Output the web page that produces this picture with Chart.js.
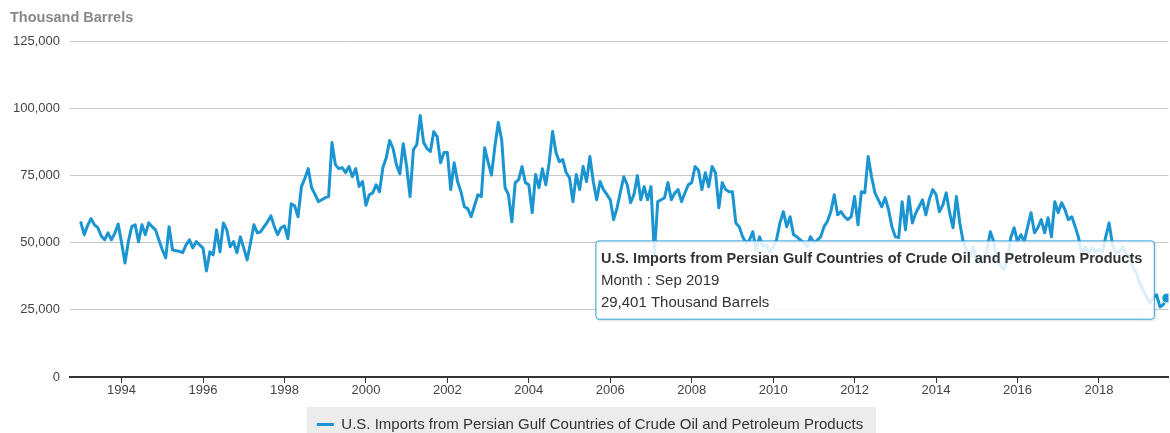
<!DOCTYPE html>
<html>
<head>
<meta charset="utf-8">
<script src="https://cdn.jsdelivr.net/npm/chart.js@4/dist/chart.umd.min.js"></script>
<style>
	html, body { margin: 0; padding: 0; background: #fff; overflow: hidden; }
	#wrap { position: relative; width: 1170px; height: 442px; }
</style>
</head>
<body>
<div id="wrap"><canvas id="importsChart"></canvas></div>
<script>
// U.S. imports from Persian Gulf countries, monthly, Jan 1993 - Sep 2019

const startYear = 1993;
const monthNames = ["Jan", "Feb", "Mar", "Apr", "May", "Jun", "Jul", "Aug", "Sep", "Oct", "Nov", "Dec"];
const yearTicks = [1994, 1996, 1998, 2000, 2002, 2004, 2006, 2008, 2010, 2012, 2014, 2016, 2018];
const yTicks = [0, 25000, 50000, 75000, 100000, 125000];
const seriesName = "U.S. Imports from Persian Gulf Countries of Crude Oil and Petroleum Products";
const unitName = "Thousand Barrels";

const imports = [
	57500, 53000, 56500, 59000, 56700, 55600, 52500, 51100, 53700, 51100, 53500, 57000, // 1993
	50000, 42500, 50500, 56000, 56700, 50400, 56700, 53000, 57400, 56000, 54800, 51000, // 1994
	47400, 44400, 56000, 47400, 47000, 46800, 46300, 49200, 51100, 48100, 50400, 49200, // 1995
	48000, 39500, 46600, 45500, 54800, 46600, 57400, 54800, 48500, 50400, 46300, 52200, // 1996
	48000, 43600, 50000, 56700, 53700, 54100, 56000, 57800, 60000, 56000, 53000, 55600, // 1997
	56300, 51500, 64500, 63800, 59700, 70900, 74000, 77600, 70500, 68000, 65300, 66000, // 1998
	66800, 67200, 87300, 79100, 77600, 78000, 76100, 78400, 74600, 77600, 71000, 72800, // 1999
	64000, 67900, 68600, 71600, 69000, 78000, 81700, 88100, 85100, 79000, 75700, 86900, // 2000
	78400, 67200, 84700, 86600, 97400, 87300, 85100, 84000, 91400, 89500, 79800, 83600, // 2001
	83600, 69800, 79800, 72800, 69000, 63400, 62700, 59700, 63800, 67900, 67200, 85400, // 2002
	80000, 75200, 85800, 94800, 88400, 70500, 67900, 57800, 72400, 73500, 78400, 72400, // 2003
	71600, 61200, 75400, 70500, 77600, 71600, 79800, 91400, 83600, 80200, 81000, 76100, // 2004
	74200, 65300, 75400, 69800, 78400, 72800, 82100, 72800, 66000, 72800, 69800, 68000, // 2005
	66000, 58600, 63000, 69000, 74600, 71600, 64900, 68000, 75000, 66000, 70900, 66000, // 2006
	70900, 46000, 65300, 66000, 66800, 72400, 66000, 68500, 69800, 65300, 68600, 71600, // 2007
	72400, 78400, 77000, 69800, 76100, 70900, 78400, 76100, 63000, 72400, 69800, 69000, // 2008
	69000, 57400, 56000, 52200, 50000, 51000, 54100, 47400, 52200, 48500, 49200, 46600, // 2009
	48500, 51100, 57400, 61600, 56000, 59700, 53000, 52200, 51100, 50000, 48500, 52200, // 2010
	50000, 51000, 52200, 56000, 58000, 61600, 67900, 60400, 61600, 59700, 58600, 59700, // 2011
	67200, 56700, 69000, 68600, 82100, 74600, 68600, 66000, 63400, 66800, 62300, 56000, // 2012
	52200, 51900, 65300, 54800, 67200, 57400, 61000, 63400, 66000, 60400, 66000, 69800, // 2013
	67900, 61600, 64000, 68600, 61200, 55600, 67200, 57400, 50400, 47400, 44500, 48500, // 2014
	42900, 45000, 42500, 47400, 54100, 50400, 43600, 41500, 39900, 43600, 51900, 55600, // 2015
	50400, 53000, 50400, 56000, 61200, 53700, 55600, 58600, 53700, 59300, 52200, 65300, // 2016
	61200, 64900, 62300, 58600, 59700, 56000, 51900, 45500, 48500, 46300, 48100, 46600, // 2017
	47500, 46600, 52200, 57400, 49200, 46300, 46600, 48500, 46000, 44800, 41000, 38800, // 2018
	35100, 32500, 30000, 27600, 29500, 30600, 26100, 27000, 29401                        // 2019
];

const lineBlue = "#1a95d2";

function monthLabel(i) {
	return monthNames[i % 12] + " " + (startYear + Math.floor(i / 12));
}

Chart.defaults.font.family = "'Liberation Sans', Arial, sans-serif";
Chart.defaults.color = "#333";

// tooltip sits up and to the left of the hovered point
Chart.Tooltip.positioners.besidePoint = function (elements) {
	if (!elements.length) return false;
	const el = elements[0].element;
	return { x: el.x - 14, y: el.y - 18, xAlign: "right", yAlign: "center" };
};

// grey band behind the legend
const legendBg = {
	id: "legendBg",
	beforeDraw(chart) {
		const lg = chart.legend;
		if (!lg || !lg.legendHitBoxes || !lg.legendHitBoxes.length) return;
		const hb = lg.legendHitBoxes[0];
		const ctx = chart.ctx;
		ctx.save();
		ctx.fillStyle = "#ececec";
		ctx.fillRect(hb.left - 10, hb.top - 10, hb.width + 23, chart.height - hb.top + 10);
		ctx.restore();
	}
};

// soft shadow under the tooltip box
const tooltipShadow = {
	id: "tooltipShadow",
	beforeTooltipDraw(chart, args) {
		const tt = args.tooltip;
		if (!tt || !tt.opacity) return;
		const ctx = chart.ctx;
		ctx.save();
		ctx.strokeStyle = "rgba(0,0,0,0.08)";
		ctx.lineWidth = 1;
		for (let k = 1; k <= 2; k++) {
			ctx.beginPath();
			ctx.roundRect(tt.x + k, tt.y + k, tt.width, tt.height, 3);
			ctx.stroke();
		}
		ctx.restore();
	}
};

const importsData = {
	datasets: [
		{
			label: seriesName,
			data: imports.map((v, i) => ({ x: i, y: v })),
			borderColor: lineBlue,
			backgroundColor: lineBlue,
			borderWidth: 3,
			borderJoinStyle: "round",
			borderCapStyle: "round",
			pointRadius: 0,
			pointHoverRadius: 5,
			pointHoverBackgroundColor: lineBlue,
			pointHoverBorderColor: "#ffffff",
			pointHoverBorderWidth: 1,
			tension: 0,
		},
	],
};

const importsConfig = {
	type: "line",
	data: importsData,
	plugins: [legendBg, tooltipShadow],
	options: {
		responsive: true,
		maintainAspectRatio: false,
		animation: false,
		events: [],
		layout: { padding: { left: 10, right: 0, top: 0, bottom: 0 } },
		scales: {
			x: {
				type: "linear",
				min: -3.2,
				max: 320.5,
				afterBuildTicks: (scale) => {
					scale.ticks = yearTicks.map((y) => ({ value: (y - startYear) * 12 }));
				},
				afterFit: (scale) => { scale.height = 30; },
				ticks: {
					callback: (v) => String(startYear + v / 12),
					font: { size: 13 },
					color: "#444",
					padding: 0,
					maxRotation: 0,
				},
				grid: {
					drawOnChartArea: false,
					drawTicks: true,
					tickLength: 6,
					color: "#333",
				},
				border: { display: true, color: "#333", width: 2 },
			},
			y: {
				min: 0,
				max: 125000,
				afterBuildTicks: (scale) => {
					scale.ticks = yTicks.map((v) => ({ value: v }));
				},
				afterFit: (scale) => { scale.width = 60; },
				ticks: {
					callback: (v) => v.toLocaleString("en-US"),
					font: { size: 13 },
					color: "#444",
					padding: 10,
				},
				grid: { color: "#c8c8c8", drawTicks: false },
				border: { display: false },
			},
		},
		plugins: {
			title: {
				display: true,
				text: unitName,
				align: "start",
				color: "#888",
				font: { size: 14.5, weight: "bold" },
				padding: { top: 9, bottom: 15 },
			},
			legend: {
				position: "bottom",
				labels: {
					boxWidth: 17,
					boxHeight: 3,
					padding: 10,
					color: "#333",
					font: { size: 15 },
					generateLabels: (chart) => {
						const items = Chart.defaults.plugins.legend.labels.generateLabels(chart);
						items.forEach((it) => { it.lineWidth = 0; });
						return items;
					},
				},
			},
			tooltip: {
				position: "besidePoint",
				backgroundColor: "rgba(255,255,255,0.85)",
				borderColor: "#2b9bd6",
				borderWidth: 1,
				cornerRadius: 3,
				caretSize: 0,
				caretPadding: 0,
				displayColors: false,
				titleColor: "#333",
				bodyColor: "#333",
				titleFont: { size: 14.5, weight: "bold" },
				bodyFont: { size: 15 },
				titleMarginBottom: 4.6,
				bodySpacing: 4,
				padding: { top: 9.3, bottom: 7, left: 5, right: 12 },
				callbacks: {
					title: (items) => items[0].dataset.label,
					label: (ctx) => [
						"Month : " + monthLabel(ctx.parsed.x),
						ctx.parsed.y.toLocaleString("en-US") + " " + unitName,
					],
				},
			},
		},
	},
};

const ImportsChart = new Chart(document.getElementById("importsChart"), importsConfig);

const lastIdx = imports.length - 1;
const lastPt = ImportsChart.getDatasetMeta(0).data[lastIdx];
ImportsChart.setActiveElements([{ datasetIndex: 0, index: lastIdx }]);
ImportsChart.tooltip.setActiveElements([{ datasetIndex: 0, index: lastIdx }], { x: lastPt.x, y: lastPt.y });
ImportsChart.update();
</script>
</body>
</html>
